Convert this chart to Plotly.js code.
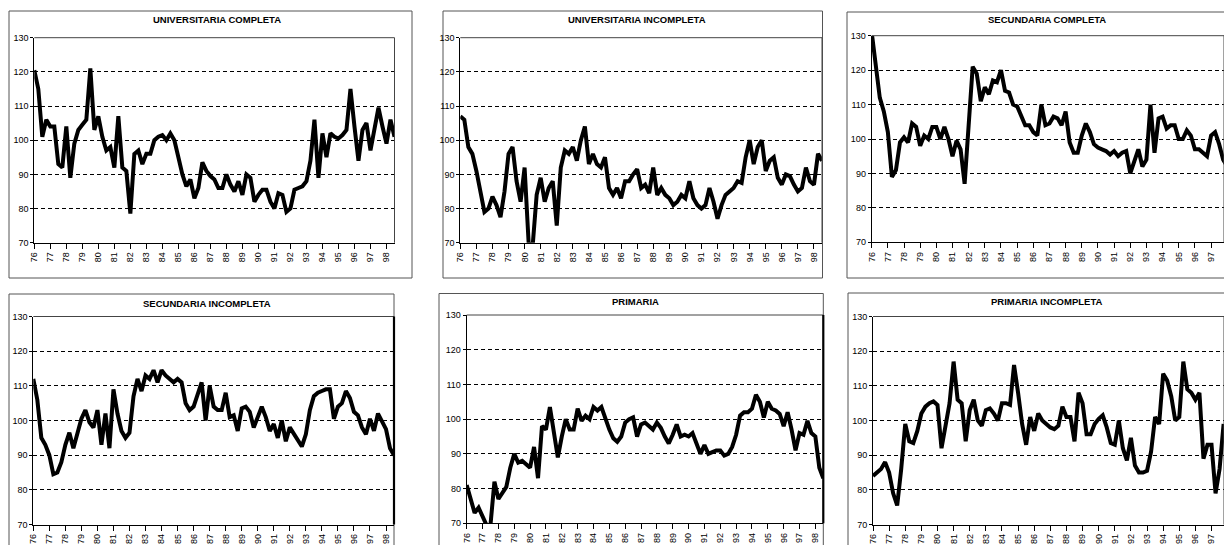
<!DOCTYPE html>
<html>
<head>
<meta charset="utf-8">
<script src="https://cdn.plot.ly/plotly-3.0.1.min.js"></script>
<style>
html,body{margin:0;padding:0;background:#fff;}
#chart{width:1224px;height:545px;}
</style>
</head>
<body>
<div id="chart"></div>
<script>
// ---- Data (quarterly index values, 1976Q1 onward) ----
const yearLabels = ['76','77','78','79','80','81','82','83','84','85','86','87','88','89','90','91','92','93','94','95','96','97','98'];
const yTicks = [70, 80, 90, 100, 110, 120, 130];

const univCompleta = [120.5,115,101,106,104,104,93,92,104,89,
  99,103,104.5,106,121,103,107,101,97,98,
  92,107,92,91,78.5,96,97,93,96,96,
  100,101,101.5,100,102,100,95,90,86.5,88.5,
  83,86,93.5,91,89.5,88.5,86,86,90,87,
  85,88,84,90,89,82,84,85.5,85.5,82,
  80,84.5,84,79,80,85.5,86,86.5,88,94,
  106,89,102,95,102,101,100.5,101.5,103,115,
  104,94,103,105,97,104,109.5,104,99,106,101];

const univIncompleta = [107,106,98,96,91,85,79,80,83.5,81,
  77.5,85,96,98,88,82,92,70,69,84,
  89,82,86,88,75,92,97,96,98,94,
  100,104,93,96,93,92,95,86,84,86,
  83,88,88,90,91.5,86,87,84.5,92,84,
  86,84,83,81,82,84,83,88,83,81,
  80,81,86,82,77,81,84,85,86,88,
  87.5,95,100,93,98,100,91,94,95,89,
  87,90,89.5,87,85,86,92,88,87,96,94];

const secCompleta = [131,121,112,108,102,89,91,99,100.5,99,
  104.5,103.5,98,101,100,103.5,103.5,100,103.5,100,
  95,99.5,97,87,104,121,119,111,115,113,
  117,116.5,120,114,113.5,110,109.5,107,104,104,
  102,101,110,104,104.5,106.5,106,104,108,99,
  96,96,101,104.5,102,98.5,97.5,97,96.5,95.5,
  96.5,95,96,96.5,90,93.5,97,92,94,110,
  96,106,106.5,103,104,104,100,100,102.5,101,
  97,97,96,95,101,102,98.5,94,92];

const secIncompleta = [112,106,95,93,90,84.5,85,88,93,96.5,
  92,96,100.5,103,99.5,98,103,93,102,92,
  109,102,97,95,96.5,107,112,108.5,113,112,
  114.5,111,114.5,113,112,111,112,111,105,103,
  104,108,111,100,110,104,103,103,108,101,
  101.5,97,103.5,104,102.5,98,101,104,101,97,
  99,95,100,94,98,96,94.5,92.5,96,103,
  107,108,108.5,109,109,100.5,104,105,108.5,106.5,
  102.5,101.5,98,96,100.5,97,102,100,97.5,92,90];

const primaria = [81,77,73,74.5,72,69.5,69.5,82,77,79,
  80.5,86,90,87.5,88,87,86,92,83,98,
  97,103.5,97,89,95,100,97,97,103,99.5,
  101,100,103.5,102.5,103.5,100,97,94.5,93.5,95,
  99,100,100.5,95,98.5,99,98,97,99,97.5,
  95,93,95.5,98.5,95,95.5,95,96,93,90,
  92.5,90,90.5,91,91,89.5,90,92,95.5,101,
  102,102,103,107,105,100.5,105,103,102.5,101.5,
  98,102,97,91,96,95.5,99.5,96,95,86,83];

const primariaIncompleta = [84,85,86,88,85,79,75.5,86,99,94,
  93.5,97,102,104,105,105.5,104.5,92,99,105,
  117,106,105,94,103,106,100,98.5,103,103.5,
  102,100,105,105,104.5,116,108,99,93,101,
  97,102,100,99,98,97.5,98.5,104,101,101,
  94,108,105,96,96,99,100.5,101.5,98,93.5,
  93,100,92,88.5,95,87,85,85,85.5,91,
  101,99,113.5,111.5,107,100,101,117,109,108,
  106,108,89,93,93,79,86,99];

// ---- Panel layout (pixel geometry on the 1224x545 page) ----
const W = 1224, H = 545;
const px = v => v / W;
const py = v => 1 - v / H;

const panels = [
  {title:'UNIVERSITARIA COMPLETA',   y:univCompleta,       plot:[34.3,37.7,394.5,242.7], pq:4.002, box:[9,11,412,278],       tx:216.7, ty:19,    rightW:1,   rightC:'#444'},
  {title:'UNIVERSITARIA INCOMPLETA', y:univIncompleta,     plot:[460.3,37.7,822,242.7],  pq:4.019, box:[443,11,822.5,278],   tx:636.7, ty:19,    rightW:1,   rightC:'#444'},
  {title:'SECUNDARIA COMPLETA',      y:secCompleta,        plot:[871.7,35.7,1224,242.3], pq:4.04,  box:[847,12,1240,278],    tx:1046.7, ty:19.5, rightW:1,   rightC:'#444'},
  {title:'SECUNDARIA INCOMPLETA',    y:secIncompleta,      plot:[33.3,316.5,394,524.5],  pq:4.008, box:[9,294,394,560],      tx:206.7, ty:303,   rightW:2.2, rightC:'#000'},
  {title:'PRIMARIA',                 y:primaria,           plot:[466.7,315,823.3,523.3], pq:3.962, box:[439,293.5,823.3,560], tx:635,  ty:301.5, rightW:2.2, rightC:'#000'},
  {title:'PRIMARIA INCOMPLETA',      y:primariaIncompleta, plot:[873,316.5,1224,524.5],  pq:4.03,  box:[848,293,1240,560],   tx:1046.7, ty:301.5, rightW:1,  rightC:'#444'}
];

const FONT = 'Liberation Sans, Arial, sans-serif';
const traces = [];
const layout = {
  width: W, height: H,
  margin: {l:0, r:0, t:0, b:0},
  paper_bgcolor: '#ffffff',
  plot_bgcolor: '#ffffff',
  showlegend: false,
  shapes: [],
  annotations: []
};

const tickvals = yearLabels.map((_, k) => 4 * k);

panels.forEach((p, idx) => {
  const k = idx === 0 ? '' : String(idx + 1);
  const [l, t, r, b] = p.plot;
  const xmax = (r - l) / p.pq;
  const xs = p.y.map((_, i) => i);
  traces.push({
    type: 'scatter', mode: 'lines',
    x: xs, y: p.y,
    xaxis: 'x' + k, yaxis: 'y' + k,
    line: {color: '#000000', width: 4},
    hoverinfo: 'skip'
  });
  layout['xaxis' + k] = {
    domain: [px(l), px(r)],
    range: [0, xmax],
    anchor: 'y' + k,
    tickmode: 'array', tickvals: tickvals, ticktext: yearLabels,
    tickangle: -90,
    ticks: 'outside', ticklen: 5, tickwidth: 1, tickcolor: '#000',
    showline: true, linecolor: '#000', linewidth: 1,
    showgrid: false, zeroline: false,
    tickfont: {family: FONT, size: 9, color: '#000'},
    fixedrange: true
  };
  layout['yaxis' + k] = {
    domain: [py(b), py(t)],
    range: [70, 130],
    anchor: 'x' + k,
    tickmode: 'array', tickvals: yTicks,
    ticks: 'outside', ticklen: 3, tickwidth: 1, tickcolor: '#000',
    showline: true, linecolor: '#000', linewidth: 1,
    showgrid: true, gridcolor: '#000', gridwidth: 1, griddash: '4px,3px',
    zeroline: false,
    tickfont: {family: FONT, size: 9, color: '#000'},
    fixedrange: true
  };
  // outer chart border
  const [bx0, by0, bx1, by1] = p.box;
  layout.shapes.push({type:'rect', xref:'paper', yref:'paper',
    x0: px(bx0), x1: px(bx1), y0: py(by1), y1: py(by0),
    line:{color:'#555', width:1}, fillcolor:'rgba(0,0,0,0)', layer:'below'});
  // plot-area frame: top and right
  layout.shapes.push({type:'line', xref:'paper', yref:'paper',
    x0: px(l), x1: px(r), y0: py(t), y1: py(t), line:{color:'#444', width:1}});
  layout.shapes.push({type:'line', xref:'paper', yref:'paper',
    x0: px(r), x1: px(r), y0: py(b), y1: py(t), line:{color:p.rightC, width:p.rightW}});
  layout.annotations.push({
    xref:'paper', yref:'paper', x: px(p.tx), y: py(p.ty),
    xanchor:'center', yanchor:'middle', showarrow:false,
    text: '<b>' + p.title + '</b>',
    font: {family: FONT, size: 9.5, color: '#000'}
  });
});

Plotly.newPlot('chart', traces, layout, {staticPlot: true, displayModeBar: false});
</script>
</body>
</html>
